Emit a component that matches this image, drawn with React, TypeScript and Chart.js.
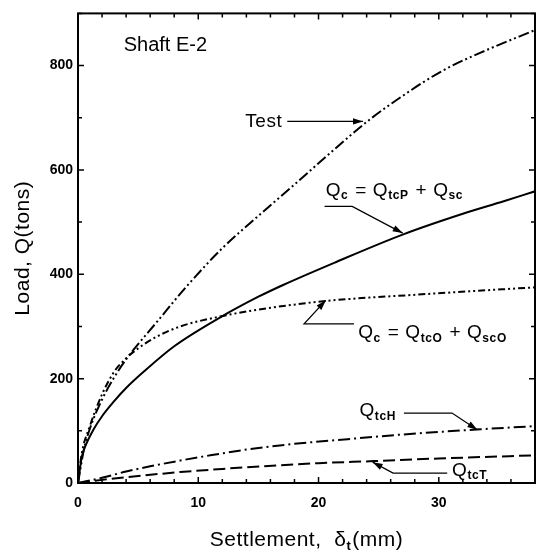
import React, { useEffect, useRef } from "react";
import { Chart, registerables } from "chart.js";

Chart.register(...registerables);

const FONT = '"Liberation Sans", Arial, Helvetica, sans-serif';

// ---- data (settlement mm, load tons) ----
const testX = [0, 0.5, 1, 2, 3, 4, 5, 6.5, 9, 12, 15, 18, 21, 24, 27, 30.3, 34, 38];
const testY = [0, 65, 105, 160, 202, 237, 266, 307, 376, 450, 512, 572, 633, 692, 742, 790, 830, 868];

const qcpX = [0, 0.3, 0.6, 1.3, 2, 2.9, 4, 5.5, 8, 11.8, 15, 17.1, 21.3, 27.1, 32, 35.4, 38];
const qcpY = [0, 48, 70, 103, 128, 154, 182, 214, 262, 317, 357, 380, 422, 477, 516, 540, 559];

const qcoX = [0, 0.3, 1, 2, 3, 4, 5, 6.5, 8.5, 11.8, 14.9, 20.7, 28.2, 33, 38];
const qcoY = [0, 55, 110, 170, 213, 239, 258, 280, 300, 319, 332, 349, 361, 368, 375];

const qtchX = [0, 2, 4, 6, 8.5, 11, 14, 18, 22.4, 27, 33.5, 38];
const qtchY = [0, 10, 22, 32, 43, 53, 64, 75, 84, 93, 103, 109];

const qtctX = [0, 2, 4, 8.5, 12, 16.8, 20, 24.6, 30, 38];
const qtctY = [0, 6, 11, 21, 27, 34, 38, 42, 47, 53];

const xTickLabels = [0, 10, 20, 30];
const yTickLabels = [0, 200, 400, 600, 800];
const X_MIN = 0, X_MAX = 38, Y_MIN = 0, Y_MAX = 900;
const X_MINOR = 2, Y_MINOR = 100;

const xTitle: [string, boolean][] = [["Settlement,  \u03B4", false], ["t", true], ["(mm)", false]];
const yTitle = "Load, Q(tons)";
const panelTitle = "Shaft E-2";

// annotations: rich text + leader line (data coordinates)
type Seg = [string, boolean];
const annotations: { text: Seg[]; x: number; y: number; path: [number, number][] }[] = [
  { text: [["Test", false]], x: 13.9, y: 692, path: [[17.4, 693], [23.7, 693]] },
  {
    text: [["Q", false], ["c", true], [" = Q", false], ["tcP", true], [" + Q", false], ["sc", true]],
    x: 20.6, y: 561, path: [[20.5, 530], [22.8, 530], [27.0, 479]],
  },
  {
    text: [["Q", false], ["c", true], [" = Q", false], ["tcO", true], [" + Q", false], ["scO", true]],
    x: 23.3, y: 288, path: [[22.95, 305], [18.8, 305], [20.6, 350]],
  },
  { text: [["Q", false], ["tcH", true]], x: 23.4, y: 138, path: [[27.1, 134], [31.1, 134], [33.2, 102]] },
  { text: [["Q", false], ["tcT", true]], x: 31.1, y: 24, path: [[30.7, 19], [26.2, 19], [24.5, 40]] },
];

function pts(xs: number[], ys: number[]) {
  return xs.map((x, i) => ({ x, y: ys[i] }));
}

function setSegFont(ctx: CanvasRenderingContext2D, sub: boolean, size: number) {
  ctx.font = sub ? `bold ${Math.round(size * 0.62)}px ${FONT}` : `${size}px ${FONT}`;
}

function drawRich(ctx: CanvasRenderingContext2D, segs: Seg[], x: number, y: number, size: number, spacing = 0) {
  let cx = x;
  ctx.textBaseline = "middle";
  ctx.textAlign = "left";
  (ctx as any).letterSpacing = `${spacing}px`;
  for (const [t, sub] of segs) {
    setSegFont(ctx, sub, size);
    ctx.fillText(t, cx, sub ? y + size * 0.3 : y);
    cx += ctx.measureText(t).width + (sub ? 1 : 0);
  }
  (ctx as any).letterSpacing = "0px";
  return cx - x;
}

function richWidth(ctx: CanvasRenderingContext2D, segs: Seg[], size: number, spacing = 0) {
  let w = 0;
  (ctx as any).letterSpacing = `${spacing}px`;
  for (const [t, sub] of segs) {
    setSegFont(ctx, sub, size);
    w += ctx.measureText(t).width + (sub ? 1 : 0);
  }
  (ctx as any).letterSpacing = "0px";
  return w;
}

function drawArrow(ctx: CanvasRenderingContext2D, p: [number, number][]) {
  ctx.beginPath();
  ctx.moveTo(p[0][0], p[0][1]);
  for (let i = 1; i < p.length; i++) ctx.lineTo(p[i][0], p[i][1]);
  ctx.stroke();
  const [x1, y1] = p[p.length - 2];
  const [x2, y2] = p[p.length - 1];
  const a = Math.atan2(y2 - y1, x2 - x1);
  const L = 10, W = 3.2;
  const c = Math.cos(a), s = Math.sin(a);
  ctx.beginPath();
  ctx.moveTo(x2, y2);
  ctx.lineTo(x2 - L * c + W * s, y2 - L * s - W * c);
  ctx.lineTo(x2 - L * c - W * s, y2 - L * s + W * c);
  ctx.closePath();
  ctx.fill();
}

const decorPlugin = {
  id: "decor",
  afterDraw(chart: any) {
    const { ctx, chartArea: ca, scales } = chart;
    const xs = scales.x, ys = scales.y;
    ctx.save();
    ctx.strokeStyle = "#000";
    ctx.fillStyle = "#000";
    // frame
    ctx.lineWidth = 2;
    ctx.setLineDash([]);
    ctx.strokeRect(ca.left, ca.top, ca.right - ca.left, ca.bottom - ca.top);
    // ticks (inward, all four sides)
    ctx.lineWidth = 1.5;
    for (let v = X_MIN; v <= X_MAX + 1e-9; v += X_MINOR) {
      const px = xs.getPixelForValue(v);
      const major = Math.abs(v % 10) < 1e-9;
      const len = major ? 6 : 4;
      ctx.beginPath();
      ctx.moveTo(px, ca.bottom); ctx.lineTo(px, ca.bottom - len);
      ctx.moveTo(px, ca.top); ctx.lineTo(px, ca.top + len);
      ctx.stroke();
    }
    for (let v = Y_MIN; v <= Y_MAX + 1e-9; v += Y_MINOR) {
      const py = ys.getPixelForValue(v);
      const major = Math.abs(v % 200) < 1e-9;
      const len = major ? 6 : 4;
      ctx.beginPath();
      ctx.moveTo(ca.left, py); ctx.lineTo(ca.left + len, py);
      ctx.moveTo(ca.right, py); ctx.lineTo(ca.right - len, py);
      ctx.stroke();
    }
    // axis titles
    const tsize = 21;
    const xw = richWidth(ctx, xTitle, tsize, 0.5);
    drawRich(ctx, xTitle, (ca.left + ca.right) / 2 - xw / 2, 540, tsize, 0.5);
    ctx.save();
    ctx.translate(23, (ca.top + ca.bottom) / 2);
    ctx.rotate(-Math.PI / 2);
    ctx.font = `${tsize}px ${FONT}`;
    (ctx as any).letterSpacing = "0.5px";
    ctx.textAlign = "center";
    ctx.textBaseline = "middle";
    ctx.fillText(yTitle, 0, 0);
    (ctx as any).letterSpacing = "0px";
    ctx.restore();
    // panel title
    ctx.font = `20px ${FONT}`;
    ctx.textAlign = "left";
    ctx.textBaseline = "middle";
    ctx.fillText(panelTitle, xs.getPixelForValue(3.8), ys.getPixelForValue(838));
    // annotations
    ctx.lineWidth = 1.3;
    for (const a of annotations) {
      drawRich(ctx, a.text, xs.getPixelForValue(a.x), ys.getPixelForValue(a.y), 19, 0.6);
      drawArrow(ctx, a.path.map(([x, y]) => [xs.getPixelForValue(x), ys.getPixelForValue(y)] as [number, number]));
    }
    ctx.restore();
  },
};

export default function App() {
  const ref = useRef<HTMLCanvasElement | null>(null);
  useEffect(() => {
    if (!ref.current) return;
    const common = { pointRadius: 0, borderColor: "#000", borderWidth: 2, fill: false, cubicInterpolationMode: "monotone" as const };
    const chart = new Chart(ref.current, {
      type: "line",
      data: {
        datasets: [
          { ...common, label: "Test", data: pts(testX, testY), borderDash: [11, 3, 2, 3, 2, 3] },
          { ...common, label: "Qc = QtcP + Qsc", data: pts(qcpX, qcpY) },
          { ...common, label: "Qc = QtcO + QscO", data: pts(qcoX, qcoY), borderDash: [7, 3, 2, 3, 2, 3] },
          { ...common, label: "QtcH", data: pts(qtchX, qtchY), borderDash: [12, 4, 2, 4] },
          { ...common, label: "QtcT", data: pts(qtctX, qtctY), borderDash: [12, 5] },
        ],
      },
      options: {
        animation: false,
        responsive: false,
        devicePixelRatio: 1,
        layout: { padding: { top: 8, right: 8, left: 0, bottom: 0 } },
        plugins: { legend: { display: false }, tooltip: { enabled: false } },
        scales: {
          x: {
            type: "linear",
            min: X_MIN,
            max: X_MAX,
            grid: { display: false, drawTicks: false },
            border: { display: false },
            afterFit: (s: any) => { s.height = 71; },
            afterBuildTicks: (s: any) => { s.ticks = xTickLabels.map((v) => ({ value: v })); },
            ticks: {
              color: "#000",
              padding: 12,
              maxRotation: 0,
              font: { family: FONT, size: 14, weight: "bold" },
            },
          },
          y: {
            type: "linear",
            min: Y_MIN,
            max: Y_MAX,
            grid: { display: false, drawTicks: false },
            border: { display: false },
            afterFit: (s: any) => { s.width = 78; },
            afterBuildTicks: (s: any) => { s.ticks = yTickLabels.map((v) => ({ value: v })); },
            ticks: {
              color: "#000",
              padding: 5,
              font: { family: FONT, size: 14, weight: "bold" },
            },
          },
        },
      },
      plugins: [decorPlugin],
    } as any);
    return () => chart.destroy();
  }, []);
  return (
    <div style={{ position: "fixed", left: 0, top: 0, width: 543, height: 554, background: "#fff" }}>
      <canvas ref={ref} width={543} height={554} style={{ display: "block" }} />
    </div>
  );
}
